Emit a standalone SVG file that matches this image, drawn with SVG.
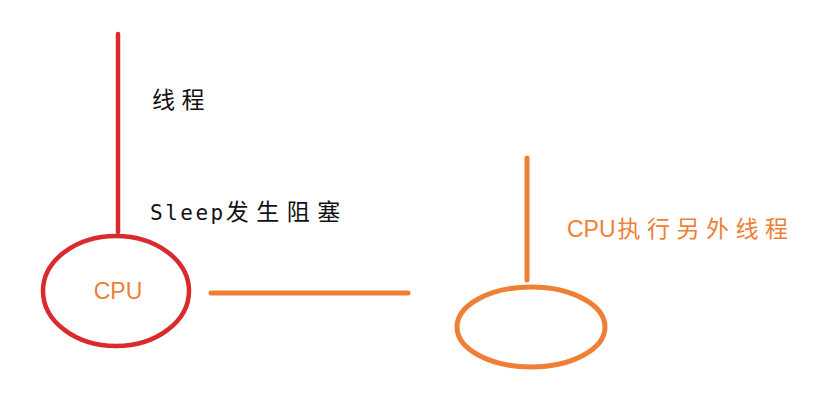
<svg xmlns="http://www.w3.org/2000/svg" width="816" height="403" viewBox="0 0 816 403">
<style>
.red{stroke:#D92A2E;fill:none;stroke-width:4.5;stroke-linecap:round}
.org{stroke:#EE7F35;fill:none;stroke-width:5;stroke-linecap:round}
.t{font-family:"Noto Sans CJK SC","Liberation Sans",sans-serif;font-size:23px}
.blk{fill:#111}
.ot{fill:#EE7F35}
.cj{letter-spacing:6.5px}
.lat{font-family:"Liberation Sans Narrow","Liberation Sans",sans-serif}
</style>
<rect width="816" height="403" fill="#fff"/>
<g id="connectors">
<line class="red" x1="118" y1="34" x2="118" y2="232"/>
<line class="org" x1="211" y1="293" x2="408" y2="293"/>
<line class="org" x1="527" y1="158" x2="527" y2="280"/>
</g>
<g id="cpu1">
<ellipse class="red" cx="116" cy="291" rx="73" ry="55"/>
<text class="t ot lat" x="118" y="299" text-anchor="middle">CPU</text>
</g>
<g id="cpu2">
<ellipse class="org" cx="531" cy="327" rx="74" ry="40"/>
</g>
<g id="labels">
<text class="t blk cj" x="152" y="108">线程</text>
<text class="t blk" x="150" y="220"><tspan style="font-family:'DejaVu Sans Mono','Liberation Mono',monospace;font-size:21px;letter-spacing:2.5px">Sleep</tspan><tspan style="letter-spacing:7.5px">发生阻塞</tspan></text>
<text class="t ot" x="567" y="237"><tspan class="lat">CPU</tspan><tspan class="cj" dx="2">执行另外线程</tspan></text>
</g>
</svg>
